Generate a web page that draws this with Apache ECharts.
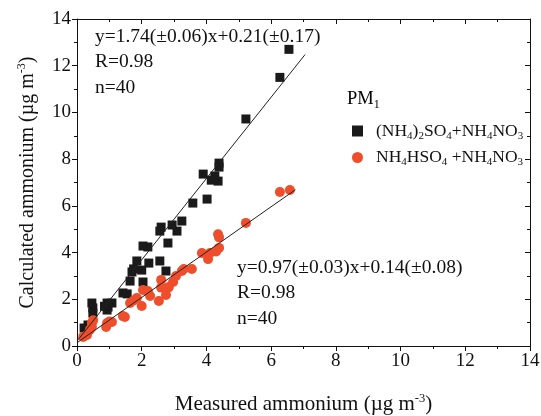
<!DOCTYPE html>
<html>
<head>
<meta charset="utf-8">
<script src="https://cdn.jsdelivr.net/npm/echarts@6/dist/echarts.min.js"></script>
<style>
  html, body { margin: 0; padding: 0; background: #fff; }
  #chart { width: 541px; height: 416px; }
</style>
</head>
<body>
<div id="chart"></div>
<script>
// measured vs calculated ammonium, PM1
var sulfateAS = [ // (NH4)2SO4 + NH4NO3  [measured, calculated]
  [6.55, 12.7], [6.27, 11.5], [5.22, 9.72], [4.39, 7.83], [4.39, 7.66],
  [3.9, 7.36], [4.15, 7.1], [4.36, 7.06], [4.26, 7.28], [4.02, 6.29],
  [3.58, 6.12], [3.24, 5.35], [2.94, 5.18], [2.6, 5.09], [2.56, 4.92],
  [3.09, 4.92], [2.81, 4.41], [2.04, 4.28], [2.19, 4.24], [1.85, 3.64],
  [2.22, 3.55], [2.56, 3.64], [1.7, 3.17], [2.0, 3.25], [2.75, 3.21],
  [1.64, 2.78], [2.04, 2.74], [1.42, 2.27], [1.55, 2.23], [0.46, 1.84],
  [0.49, 1.63], [0.49, 1.41], [0.93, 1.84], [1.08, 1.84], [0.96, 1.67],
  [0.93, 1.54], [0.34, 0.9], [0.22, 0.77], [1.75, 3.3], [0.85, 1.7]
];
var bisulfateABS = [ // NH4HSO4 + NH4NO3
  [6.58, 6.68], [6.27, 6.59], [5.22, 5.27], [4.36, 4.78], [4.39, 4.65],
  [4.39, 4.2], [4.11, 3.98], [4.05, 3.72], [3.86, 3.98], [4.3, 4.05],
  [3.55, 3.3], [3.24, 3.21], [3.06, 3.0], [2.97, 2.74], [2.84, 2.53],
  [2.6, 2.83], [2.53, 1.93], [2.75, 2.18], [2.81, 2.48], [2.04, 2.4],
  [2.19, 2.35], [2.26, 2.14], [1.85, 2.05], [1.64, 1.84], [2.0, 1.71],
  [1.48, 1.24], [1.42, 1.28], [1.08, 1.03], [0.93, 0.98], [0.9, 0.81],
  [0.46, 0.98], [0.46, 0.81], [0.31, 0.47], [0.19, 0.39], [0.5, 1.1],
  [1.75, 1.95], [2.6, 2.5], [0.4, 0.7], [3.3, 3.3], [1.0, 1.05]
];
// regression line end points
var fitAS = [[0, 0.21], [7.05, 12.48]];
var fitABS = [[0, 0.14], [6.75, 6.69]];

var axisTicks = [0, 2, 4, 6, 8, 10, 12, 14];

var FONT = '"Liberation Serif", "Times New Roman", serif';
var rich = {
  b: { fontFamily: FONT, fontSize: 17.5, color: '#111' },
  s: { fontFamily: FONT, fontSize: 11, color: '#111', padding: [10, 0, 0, 0] },
  u: { fontFamily: FONT, fontSize: 11, color: '#111', padding: [0, 0, 10, 0] }
};
var titleRich = {
  b: { fontFamily: FONT, fontSize: 18.5, color: '#111' },
  s: { fontFamily: FONT, fontSize: 12, color: '#111', padding: [10, 0, 0, 0] }
};
var legendText = {
  '(NH4)2SO4+NH4NO3': '{b|(NH}{s|4}{b|)}{s|2}{b|SO}{s|4}{b|+NH}{s|4}{b|NO}{s|3}',
  'NH4HSO4 +NH4NO3': '{b|NH}{s|4}{b|HSO}{s|4}{b| +NH}{s|4}{b|NO}{s|3}'
};

function baseAxis(pos, show) {
  return {
    type: 'value', position: pos, min: 0, max: 14, interval: 2,
    axisLine: { show: true, onZero: false, lineStyle: { color: '#111', width: 1 } },
    axisTick: { show: true, inside: !show, length: 5, lineStyle: { color: '#111' } },
    minorTick: { show: true, splitNumber: 2, length: 3, lineStyle: { color: '#111' } },
    splitLine: { show: false },
    axisLabel: {
      show: show, margin: 6, fontFamily: FONT, fontSize: 19, color: '#111',
      formatter: function (v) { return axisTicks.indexOf(v) >= 0 ? String(v) : ''; }
    }
  };
}

var xMain = baseAxis('bottom', true);
xMain.name = '{b|Measured ammonium (µg m}{u|-3}{b|)}';
xMain.nameLocation = 'middle';
xMain.nameGap = 46;
xMain.nameTextStyle = { rich: {
  b: { fontFamily: FONT, fontSize: 21, color: '#111' },
  u: { fontFamily: FONT, fontSize: 12.5, color: '#111', padding: [0, 0, 11, 0] }
} };
var yMain = baseAxis('left', true);
yMain.name = '{b|Calculated ammonium (µg m}{u|-3}{b|)}';
yMain.nameLocation = 'middle';
yMain.nameGap = 38;
yMain.nameTextStyle = { rich: {
  b: { fontFamily: FONT, fontSize: 20, color: '#111' },
  u: { fontFamily: FONT, fontSize: 12, color: '#111', padding: [0, 0, 11, 0] }
} };

var eqStyle = { fontFamily: FONT, fontSize: 19.5, fill: '#111', lineHeight: 25.5 };

var option = {
  animation: false,
  backgroundColor: '#fff',
  grid: { left: 77, right: 11, top: 19, bottom: 70, outerBoundsMode: 'none' },
  xAxis: [xMain, baseAxis('top', false)],
  yAxis: [yMain, baseAxis('right', false)],
  legend: {
    data: ['(NH4)2SO4+NH4NO3', 'NH4HSO4 +NH4NO3'],
    orient: 'vertical', left: 347, top: 117, itemGap: 7,
    itemWidth: 11, itemHeight: 11,
    formatter: function (n) { return legendText[n]; },
    textStyle: { rich: rich, padding: [0, 0, 0, 8] }
  },
  graphic: [
    { type: 'text', left: 95, top: 24, style: Object.assign({ text: 'y=1.74(±0.06)x+0.21(±0.17)\nR=0.98\nn=40' }, eqStyle) },
    { type: 'text', left: 237, top: 255, style: Object.assign({ text: 'y=0.97(±0.03)x+0.14(±0.08)\nR=0.98\nn=40' }, eqStyle) },
    { type: 'text', left: 347, top: 90, style: { text: '{b|PM}{s|1}', rich: titleRich } }
  ],
  series: [
    { name: '(NH4)2SO4+NH4NO3', type: 'scatter', data: sulfateAS, symbol: 'rect', symbolSize: 9,
      itemStyle: { color: '#1a1a1a', opacity: 1 } },
    { name: 'NH4HSO4 +NH4NO3', type: 'scatter', data: bisulfateABS, symbol: 'circle', symbolSize: 10,
      itemStyle: { color: '#ee4e2c', opacity: 1 } },
    { type: 'line', data: fitAS, symbol: 'none', lineStyle: { color: '#222', width: 1 }, z: 3 },
    { type: 'line', data: fitABS, symbol: 'none', lineStyle: { color: '#222', width: 1 }, z: 3 }
  ]
};

var myChart = echarts.init(document.getElementById('chart'));
myChart.setOption(option);
window.addEventListener('resize', function () { myChart.resize(); });
</script>
</body>
</html>
